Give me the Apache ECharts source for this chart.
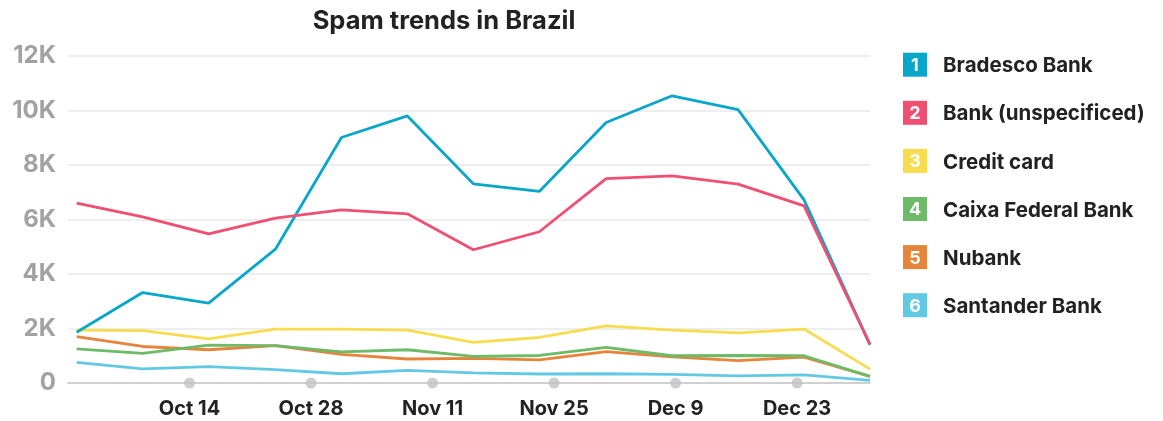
<!DOCTYPE html>
<html>
<head>
<meta charset="utf-8">
<script src="https://cdn.jsdelivr.net/npm/echarts@6/dist/echarts.min.js"></script>
<style>
html,body{margin:0;padding:0;background:#fff;}
#chart{width:1163px;height:421px;}
</style>
</head>
<body>
<div id="chart"></div>
<script>
// Days since Sep 30 for each data point
var pointDays = [1, 8.6, 16.2, 23.9, 31.5, 39.1, 46.7, 54.3, 62, 69.6, 77.2, 84.8, 92.4];
var bradesco   = [1860, 3320, 2930, 4910, 9010, 9800, 7310, 7030, 9560, 10540, 10030, 6720, 1400];
var bankUnspec = [6600, 6100, 5470, 6050, 6350, 6210, 4890, 5550, 7500, 7600, 7300, 6500, 1420];
var creditCard = [1940, 1920, 1620, 1980, 1980, 1940, 1490, 1670, 2100, 1940, 1840, 1980, 510];
var caixa      = [1250, 1090, 1390, 1370, 1140, 1220, 980, 1010, 1310, 1000, 1010, 1000, 240];
var nubank     = [1700, 1340, 1220, 1370, 1050, 880, 900, 850, 1150, 960, 820, 950, 240];
var santander  = [760, 520, 600, 490, 340, 460, 370, 330, 340, 320, 260, 300, 100];
var tickDays   = [14, 28, 42, 56, 70, 84];
var tickLabels = ['Oct 14', 'Oct 28', 'Nov 11', 'Nov 25', 'Dec 9', 'Dec 23'];
var yTickLabels = ['0', '2K', '4K', '6K', '8K', '10K', '12K'];
var seriesNames = ['Bradesco Bank', 'Bank (unspecificed)', 'Credit card', 'Caixa Federal Bank', 'Nubank', 'Santander Bank'];
var seriesColors = ['#08a6c9', '#f04f72', '#f8dc50', '#6dbb68', '#e5843a', '#62c9e4'];
var seriesValues = [bradesco, bankUnspec, creditCard, caixa, nubank, santander];

var FONT = 'Inter, "Noto Sans", sans-serif';
var chart = echarts.init(document.getElementById('chart'));

var series = [];
var drawOrder = [5, 4, 3, 2, 0, 1];
drawOrder.forEach(function (i) {
  series.push({
    name: seriesNames[i],
    type: 'line',
    data: pointDays.map(function (d, k) { return [d, seriesValues[i][k]]; }),
    showSymbol: false,
    symbol: 'none',
    lineStyle: { color: seriesColors[i], width: 2.8 },
    itemStyle: { color: seriesColors[i] },
    z: 3
  });
});
series.push({
  type: 'scatter',
  data: tickDays.map(function (d) { return [d, 0]; }),
  symbolSize: 11,
  itemStyle: { color: '#c2c2c6' },
  clip: false,
  silent: true,
  z: 4
});

var graphics = [];
seriesNames.forEach(function (name, i) {
  var cy = 64.7 + i * 48.1;
  graphics.push({
    type: 'rect',
    left: 903, top: cy - 12,
    shape: { width: 24, height: 24 },
    style: { fill: seriesColors[i] }
  });
  graphics.push({
    type: 'text',
    x: 915, y: cy + 1,
    style: {
      text: String(i + 1), fill: '#fff', font: 'bold 18px ' + FONT,
      align: 'center', verticalAlign: 'middle'
    }
  });
  graphics.push({
    type: 'text',
    x: 943, y: cy + 1.5,
    style: {
      text: name, fill: '#222', font: 'bold 20.5px ' + FONT,
      align: 'left', verticalAlign: 'middle'
    }
  });
});
graphics.push({
  type: 'text',
  x: 444, y: 21,
  style: {
    text: 'Spam trends in Brazil', fill: '#222', font: 'bold 25.5px ' + FONT,
    align: 'center', verticalAlign: 'middle'
  }
});

chart.setOption({
  animation: false,
  grid: { left: 68, right: 293, top: 56, bottom: 38, containLabel: false },
  xAxis: {
    type: 'value', min: 0, max: 92.4,
    splitLine: { show: false },
    axisLine: { show: true, lineStyle: { color: '#c6c6c6', width: 1.5 } },
    axisTick: { show: false },
    axisLabel: {
      customValues: tickDays,
      formatter: function (v) { var k = tickDays.indexOf(v); return k >= 0 ? tickLabels[k] : ''; },
      color: '#222', fontFamily: FONT, fontWeight: 'bold', fontSize: 20, margin: 16
    }
  },
  yAxis: {
    type: 'value', min: 0, max: 12000, interval: 2000,
    axisLine: { show: false }, axisTick: { show: false },
    splitLine: { lineStyle: { color: '#e8e8e8', width: 1.5 } },
    axisLabel: {
      formatter: function (v) { return yTickLabels[Math.round(v / 2000)]; },
      color: '#a2a2a2', fontFamily: FONT, fontWeight: 'bold', fontSize: 24, margin: 12
    }
  },
  series: series,
  graphic: graphics
});
</script>
</body>
</html>
